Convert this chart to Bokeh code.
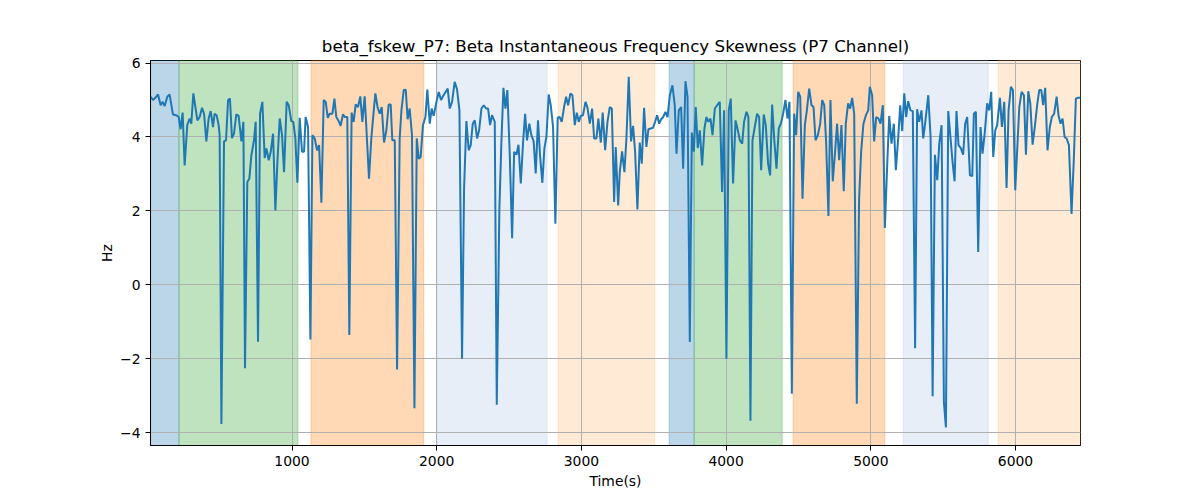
from bokeh.plotting import figure
from bokeh.models import BoxAnnotation, FixedTicker, Range1d
from bokeh.embed import file_html
from bokeh.resources import INLINE

# sample times (s) and beta instantaneous frequency skewness (Hz)
time_s = [23, 39, 55, 74, 92, 106, 120, 138, 154, 177, 200, 217, 230, 244, 258, 276, 293, 304, 318, 346,
          362, 378, 392, 408, 424, 438, 454, 465, 479, 493, 500, 512, 530, 544, 558, 571, 585, 599, 615, 631,
          650, 664, 675, 691, 705, 719, 737, 749, 765, 779, 795, 811, 823, 839, 853, 869, 885, 899, 915, 931,
          945, 963, 977, 995, 1009, 1023, 1037, 1053, 1069, 1083,
          1094, 1111, 1127, 1141, 1157, 1173, 1187, 1203, 1219, 1233, 1247, 1260, 1279, 1293, 1306, 1325, 1336,
          1352, 1366, 1382, 1396, 1412, 1426, 1440, 1456, 1472, 1486, 1502, 1514, 1532, 1548, 1564, 1576, 1592,
          1606, 1620, 1636, 1652, 1668, 1682, 1693, 1710, 1726, 1744, 1756, 1772, 1786, 1799, 1813, 1829, 1846,
          1862, 1876, 1889, 1905, 1922, 1935, 1952, 1965, 1979, 1998, 2014, 2030, 2044, 2062, 2076, 2090, 2106,
          2124, 2140, 2157, 2175,
          2189, 2205, 2221, 2235, 2249, 2263, 2279, 2293, 2309, 2325, 2341, 2355, 2369, 2382, 2401, 2415, 2433,
          2447, 2461, 2475, 2488, 2505, 2521, 2535, 2551, 2565, 2581, 2597, 2611, 2624, 2640, 2654, 2670, 2684,
          2700, 2714, 2730, 2744, 2758, 2774, 2788, 2804, 2820, 2836, 2850, 2864, 2880, 2894, 2908, 2924, 2938,
          2954, 2968, 2982, 2995, 3011, 3028, 3041, 3058, 3074, 3088, 3104, 3117, 3134, 3147, 3164, 3180, 3196,
          3210,
          3226, 3237, 3254, 3265, 3281, 3297, 3311, 3327, 3343, 3357, 3371, 3387, 3403, 3417, 3433, 3449, 3463,
          3479, 3495, 3509, 3523, 3537, 3551, 3565, 3581, 3595, 3611, 3629, 3645, 3657, 3673, 3689, 3703, 3719,
          3733, 3749, 3763, 3777, 3790, 3804, 3818, 3834, 3850, 3864, 3878, 3892, 3906, 3922, 3938, 3956, 3972,
          3986, 4002, 4018, 4032, 4048, 4065, 4078, 4095, 4111, 4124, 4141, 4154, 4168, 4182, 4198, 4214, 4228,
          4242, 4260, 4274, 4290, 4304,
          4318, 4332, 4348, 4364, 4378, 4394, 4410, 4424, 4438, 4454, 4470, 4484, 4498, 4512, 4528, 4544, 4558,
          4574, 4590, 4604, 4618, 4634, 4650, 4664, 4678, 4691, 4707, 4721, 4737, 4751, 4767, 4781, 4797, 4813,
          4827, 4843, 4857, 4871, 4885, 4903, 4919, 4933, 4949, 4966, 4982, 4993, 5009, 5023, 5037, 5053, 5067,
          5083, 5097, 5113, 5127, 5143, 5159, 5173, 5189, 5203, 5217, 5231, 5244, 5258, 5274, 5290, 5306, 5320,
          5334, 5350,
          5362, 5374, 5397, 5413, 5427, 5443, 5459, 5473, 5489, 5505, 5519, 5535, 5551, 5565, 5579, 5592, 5606,
          5622, 5638, 5652, 5666, 5685, 5701, 5712, 5726, 5742, 5758, 5772, 5788, 5804, 5818, 5832, 5846, 5860,
          5873, 5892, 5906, 5922, 5938, 5952, 5968, 5982, 5998, 6012, 6026, 6042, 6058, 6072, 6088, 6102, 6118,
          6134, 6150, 6164, 6178, 6191, 6205, 6221, 6237, 6251, 6267, 6284, 6297, 6311, 6325, 6339, 6353, 6369,
          6387, 6403, 6417, 6433, 6449]

fskew = [5.09, 5.0, 5.06, 5.15, 4.86, 4.95, 4.84, 5.09, 5.15, 4.61, 4.59, 4.54, 4.21, 4.66, 3.23, 4.32, 4.5, 4.36, 5.18, 4.45,
         4.54, 4.79, 4.63, 3.88, 4.5, 4.7, 4.27, 4.63, 4.59, 4.32, 4.05, -3.77, 3.88, 3.91, 5.0, 5.04, 3.97, 4.09, 4.61, 4.57,
         3.88, 4.41, -2.26, 2.78, 2.87, 3.5, 3.91, 4.41, -1.54, 4.63, 4.95, 3.43, 3.69, 3.37, 3.6, 4.09, 2.01, 3.32, 4.5, 4.05,
         3.05, 4.95, 4.86, 4.43, 4.41, 3.96, 2.76, 4.52, 3.6, 3.6,
         4.54, 4.27, -1.48, 4.05, 3.96, 3.64, 3.78, 2.22, 5.0, 4.95, 4.52, 4.63, 4.63, 5.04, 4.54, 4.41, 4.3,
         4.61, 4.54, 4.54, -1.36, 4.66, 4.41, 4.88, 4.81, 5.1, 4.41, 5.1, 4.23, 2.87, 3.96, 4.68, 5.18, 4.79,
         4.63, 4.81, 3.85, 4.18, 4.88, 4.88, 3.91, 3.91, -2.29, 3.96, 4.72, 5.27, 5.28, 4.48, 4.77, 4.05, -3.34,
         3.96, 3.41, 3.46, 4.32, 4.54, 5.28, 4.36, 4.77, 4.57, 4.95, 5.22, 5.0, 5.11, 5.22, 5.31, 4.77, 4.95,
         5.49, 5.3, 4.72, -2.0,
         2.6, 4.43, 3.64, 3.78, 4.36, 4.45, 3.96, 4.18, 4.77, 4.86, 4.77, 4.77, 4.32, 4.59, 4.41, -3.25, 2.06,
         3.87, 5.33, 4.77, 5.27, 3.5, 1.26, 3.6, 3.52, 3.79, 2.74, 3.87, 4.63, 3.91, 4.36, 4.05, 3.88, 3.01,
         4.45, 3.5, 2.76, 3.69, 4.0, 5.15, 4.86, 4.27, 1.65, 4.52, 4.54, 4.41, 4.81, 5.09, 4.86, 5.18, 5.13,
         4.32, 4.66, 4.41, 4.57, 4.59, 4.95, 4.81, 4.36, 4.77, 3.96, 3.96, 4.5, 3.85, 4.66, 3.64, 4.41, 4.81,
         4.77,
         2.24, 3.73, 2.15, 3.05, 3.61, 3.05, 3.96, 5.63, 3.88, 4.3, 3.6, 2.04, 3.85, 3.28, 4.79, 3.73, 4.21,
         4.23, 4.25, 4.41, 4.59, 4.36, 4.48, 4.54, 4.68, 4.54, 5.13, 5.4, 4.86, 3.55, 4.72, 4.81, 3.14, 5.51,
         5.09, -1.55, 4.12, 3.6, 4.81, 3.7, 4.18, 3.23, 4.23, 4.54, 4.41, 4.5, 4.05, 4.77, 4.86, 4.95, 2.51,
         4.72, -2.0, 4.72, 5.04, 2.74, 4.45, 4.23, 3.91, 3.82, 4.41, 4.68, 4.54, -3.68, 3.91, 4.27, 4.63, 4.54,
         3.1, 4.61, 4.32, 3.28, 2.96,
         4.88, 3.96, 3.14, 4.23, 4.36, 4.63, 5.0, 4.5, 4.95, -2.95, 4.63, 4.05, 5.22, 5.09, 2.33, 4.32, 4.72,
         5.31, 4.86, 4.81, 3.91, 4.05, 4.36, 5.0, 4.86, 3.87, 1.86, 5.0, 2.8, 3.5, 4.36, 3.37, 4.32, 2.53,
         4.36, 4.91, 4.77, 5.06, 4.63, -3.22, 2.33, 3.6, 4.36, 4.59, 4.72, 5.36, 5.13, 3.88, 4.54, 4.5, 4.36,
         4.86, 1.54, 3.23, 4.57, 3.82, 4.36, 3.1, 3.96, 4.86, 4.16, 5.18, 4.54, 4.97, 4.72, 4.7, -1.72, 4.75,
         4.41, 4.72,
         3.96, 4.32, 5.13, 4.0, -3.02, 3.52, 2.83, 3.82, 4.32, -3.18, -3.86, 4.7, 3.96, 3.32, 2.8, 4.7, 3.78,
         3.7, 3.52, 4.36, 4.54, 2.96, 2.94, 4.63, 4.68, 0.89, 4.27, 3.55, 4.14, 4.91, 4.72, 5.22, 3.46, 4.18,
         4.32, 5.06, 4.27, 4.95, 2.62, 4.72, 5.36, 5.27, 2.56, 3.69, 4.81, 5.22, 5.13, 3.52, 5.24, 4.91, 3.79,
         4.3, 4.88, 5.27, 5.27, 4.86, 5.33, 3.64, 4.27, 4.54, 4.63, 5.09, 4.59, 4.36, 4.5, 4.0, 3.96, 3.78,
         1.92, 3.41, 5.04, 5.06, 5.06]

# shaded task segments
seg_start = [23, 219, 1131, 2004, 2839, 3606, 3779, 4463, 5224, 5880]
seg_end = [219, 1041, 1910, 2763, 3507, 3779, 4387, 5097, 5811, 6449]
seg_color = ["#1f77b4", "#2ca02c", "#ff7f0e", "#aec7e8", "#ffbb78",
             "#1f77b4", "#2ca02c", "#ff7f0e", "#aec7e8", "#ffbb78"]

p = figure(width=1200, height=500, output_backend="svg", toolbar_location=None,
           title="beta_fskew_P7: Beta Instantaneous Frequency Skewness (P7 Channel)",
           x_axis_label="Time(s)", y_axis_label="Hz",
           x_range=Range1d(22, 6449), y_range=Range1d(-4.35, 6.07),
           min_border_left=150, min_border_right=120, min_border_top=60, min_border_bottom=55)

for a, b, c in zip(seg_start, seg_end, seg_color):
    p.add_layout(BoxAnnotation(left=a, right=b, fill_color=c, fill_alpha=0.3,
                               line_color=c, line_alpha=0.3, level="image"))

p.line(time_s, fskew, line_color="#1f77b4", line_width=2)

p.title.align = "center"
p.title.text_font = "DejaVu Sans"
p.title.text_font_size = "16.7px"
p.title.text_font_style = "normal"
p.title.text_color = "black"

p.xaxis.ticker = FixedTicker(ticks=[1000, 2000, 3000, 4000, 5000, 6000])
p.yaxis.ticker = FixedTicker(ticks=[-4, -2, 0, 2, 4, 6])
for ax in p.xaxis + p.yaxis:
    ax.axis_label_text_font = "DejaVu Sans"
    ax.axis_label_text_font_size = "13.9px"
    ax.axis_label_text_font_style = "normal"
    ax.axis_label_text_color = "black"
    ax.major_label_text_font = "DejaVu Sans"
    ax.major_label_text_font_size = "13.9px"
    ax.major_label_text_color = "black"
    ax.axis_line_color = "black"
    ax.major_tick_line_color = "black"
    ax.major_tick_in = 0
    ax.major_tick_out = 5
    ax.minor_tick_line_color = None
p.xaxis.axis_label_standoff = 4
p.yaxis.axis_label_standoff = 2

p.grid.grid_line_color = "#b0b0b0"
p.grid.grid_line_width = 1
p.outline_line_color = "black"
p.outline_line_width = 1

open("out.html", "w").write(file_html(p, INLINE))
